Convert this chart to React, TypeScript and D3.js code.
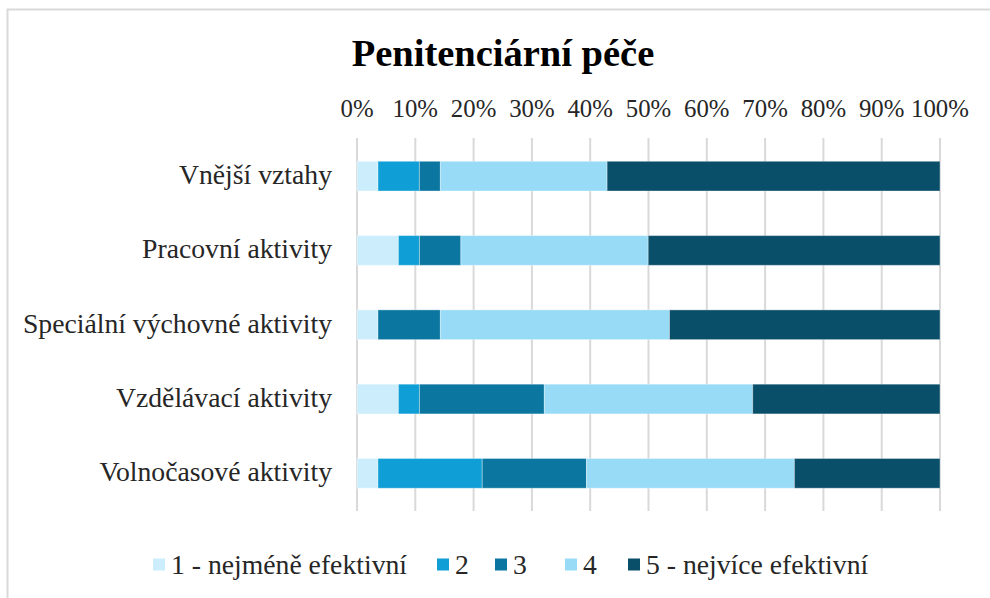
import React from "react";
import * as d3 from "d3";

const categories = [
  "Vnější vztahy",
  "Pracovní aktivity",
  "Speciální výchovné aktivity",
  "Vzdělávací aktivity",
  "Volnočasové aktivity",
];
const seriesNames = ["1 - nejméně efektivní", "2", "3", "4", "5 - nejvíce efektivní"];
// percentages per category, for ratings 1..5
const rating1 = [3.6, 7.1, 3.6, 7.1, 3.6];
const rating2 = [7.1, 3.6, 0, 3.6, 17.9];
const rating3 = [3.6, 7.1, 10.7, 21.4, 17.9];
const rating4 = [28.6, 32.1, 39.3, 35.7, 35.7];
const rating5 = [57.1, 50.0, 46.4, 32.1, 25.0];
const tickValues = [0, 10, 20, 30, 40, 50, 60, 70, 80, 90, 100];
const colors = ["#CCEEFC", "#0F9ED5", "#0B76A0", "#97DBF7", "#0A4F6A"];

const W = 990;
const H = 598;

export default function App() {
  const seriesVals = [rating1, rating2, rating3, rating4, rating5];
  const rows = categories.map((c, i) => {
    const o: any = { cat: c };
    seriesNames.forEach((s, k) => (o[s] = seriesVals[k][i]));
    return o;
  });
  const stacked = d3.stack<any>().keys(seriesNames).offset(d3.stackOffsetExpand)(rows);

  const x = d3.scaleLinear().domain([0, 1]).range([357, 940]);
  const y = d3.scaleBand().domain(categories).range([139, 510.5]).paddingInner(0.6).paddingOuter(0.3);

  const legendX = [153, 437, 495, 565, 628];

  return (
    <svg width={W} height={H} style={{ position: "absolute", left: 0, top: 0, background: "#fff" }}
      fontFamily="'Liberation Serif', 'Times New Roman', serif">
      <rect x={7.5} y={9.5} width={W + 10} height={H + 10} fill="#fff" stroke="#D9D9D9" strokeWidth={2} />
      <text x={503} y={66} textAnchor="middle" fontSize={38.5} fontWeight="bold" fill="#000">
        Penitenciární péče
      </text>
      {tickValues.map((t) => (
        <g key={t}>
          <line x1={x(t / 100)} x2={x(t / 100)} y1={138} y2={511} stroke="#D9D9D9" strokeWidth={2} />
          <text x={x(t / 100)} y={117} textAnchor="middle" fontSize={24.8} fill="#262626">
            {t}%
          </text>
        </g>
      ))}
      {stacked.map((s, k) => (
        <g key={s.key} fill={colors[k]}>
          {s.map((d, i) => (
            <rect key={i} x={x(d[0])} width={Math.max(0, x(d[1]) - x(d[0]))}
              y={y(categories[i])!} height={y.bandwidth()}
              stroke="#ffffff" strokeOpacity={0.35} strokeWidth={1} />
          ))}
        </g>
      ))}
      {categories.map((c) => (
        <text key={c} x={332} y={y(c)! + y.bandwidth() / 2 + 8} textAnchor="end" fontSize={27.7} fill="#262626">
          {c}
        </text>
      ))}
      {seriesNames.map((s, k) => (
        <g key={s}>
          <rect x={legendX[k]} y={558.5} width={12} height={12} fill={colors[k]} />
          <text x={legendX[k] + 18} y={574} fontSize={27.7} fill="#262626">{s}</text>
        </g>
      ))}
    </svg>
  );
}
